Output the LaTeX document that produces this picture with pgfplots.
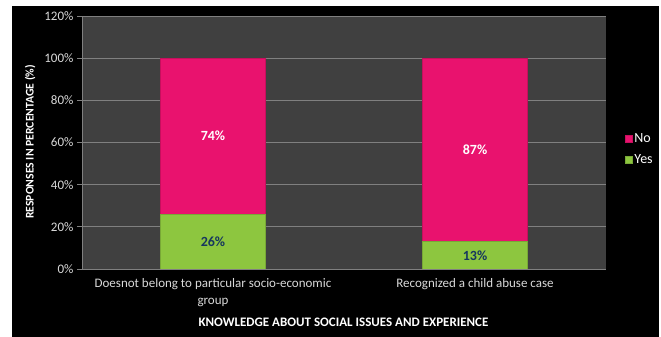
\documentclass[border=0pt]{standalone}
\usepackage{pgfplots}
\pgfplotsset{compat=1.18}
\usepackage{fontspec}
\setmainfont{Carlito}
\definecolor{pinkbar}{RGB}{233,18,110}
\definecolor{greenbar}{RGB}{141,198,63}
\definecolor{plotbg}{RGB}{64,64,64}
\definecolor{gridc}{RGB}{128,128,128}
\definecolor{ticktext}{RGB}{217,217,217}
\definecolor{darklab}{RGB}{23,55,94}
\begin{document}
\begin{tikzpicture}[x=1pt,y=1pt]
\fill[white] (0,0) rectangle (661,337);
\fill[black] (12,0) rectangle (659,331);
\useasboundingbox (0,0) rectangle (661,337);
\begin{axis}[
  at={(82pt,68pt)}, anchor=south west,
  scale only axis, width=524pt, height=253pt,
  ybar stacked, bar width=0.4,
  xmin=-0.5, xmax=1.5, ymin=0, ymax=120,
  xtick={0,1},
  xticklabels={{Doesnot belong to particular socio-economic\\group},{Recognized a child abuse case}},
  xticklabel style={align=center, text=ticktext, font=\fontsize{13}{17}\selectfont, yshift=-1pt},
  major x tick style={draw=none},
  extra x ticks={-0.5,0.5,1.5},
  extra x tick labels={},
  extra x tick style={major tick length=4pt, tick style={draw=gridc}},
  ytick={0,20,40,60,80,100,120},
  yticklabels={0\%,20\%,40\%,60\%,80\%,100\%,120\%},
  yticklabel style={text=ticktext, font=\fontsize{13}{15}\selectfont},
  ymajorgrids, grid style={gridc, line width=0.8pt},
  tick align=outside, major tick length=5pt,
  tick style={gridc, line width=0.8pt},
  axis x line*=bottom, axis y line*=left,
  axis line style={gridc, line width=0.8pt, -},
  axis background/.style={fill=plotbg},
  ylabel={RESPONSES IN PERCENTAGE (\%)},
  ylabel style={at={(axis description cs:-0.099,0.502)}, anchor=center, rotate=0, font=\bfseries\fontsize{11.7}{13}\selectfont, text=white},
  xlabel={KNOWLEDGE ABOUT SOCIAL ISSUES AND EXPERIENCE},
  xlabel style={at={(axis description cs:0.499,-0.209)}, anchor=center, font=\bfseries\fontsize{13}{15}\selectfont, text=white},
  legend style={at={(1.035,0.473)}, anchor=west, draw=none, fill=none, text=white, font=\fontsize{14}{16}\selectfont, row sep=7pt, inner sep=0pt, nodes={inner xsep=2.5pt}},
  legend cell align=left,
  reverse legend,
  legend image code/.code={\fill[#1] (0pt,-3.5pt) rectangle (7pt,3.5pt);},
  visualization depends on=rawy \as \rawy,
  nodes near coords={\pgfmathprintnumber[assume math mode=true]{\rawy}\%},
  every node near coord/.append style={anchor=center, font=\bfseries\fontsize{14}{16}\selectfont},
]
\addplot[fill=greenbar, draw=greenbar!85!black, every node near coord/.append style={text=darklab}] coordinates {(0,26) (1,13)};
\addlegendentry{Yes}
\addplot[fill=pinkbar, draw=pinkbar!85!black, every node near coord/.append style={text=white}] coordinates {(0,74) (1,87)};
\addlegendentry{No}
\end{axis}
\end{tikzpicture}
\end{document}
